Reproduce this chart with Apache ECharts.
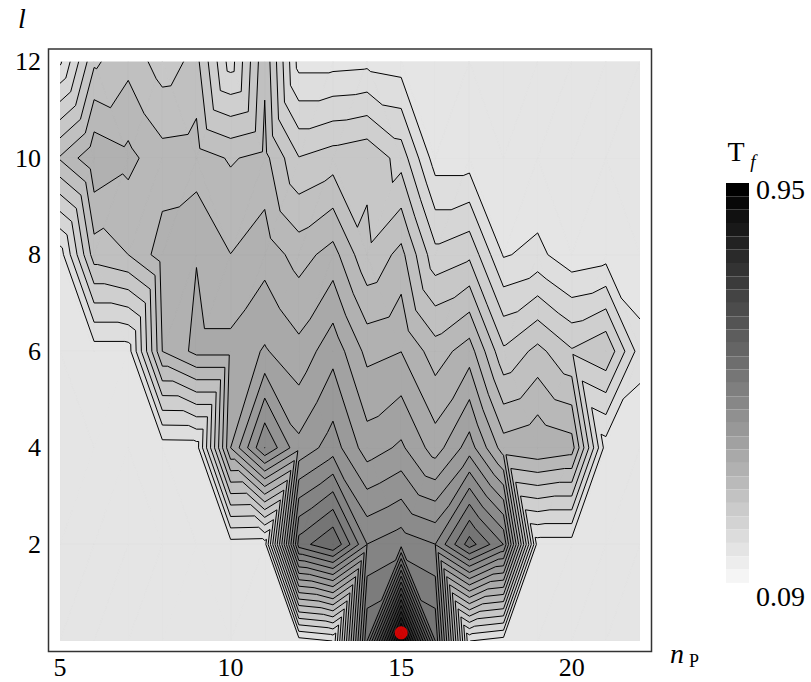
<!DOCTYPE html>
<html>
<head>
<meta charset="utf-8">
<title>T_f contour map</title>
<script src="https://cdn.jsdelivr.net/npm/echarts@6/dist/echarts.min.js"></script>
<style>
html,body{margin:0;padding:0;background:#ffffff;}
#chart{width:811px;height:682px;}
</style>
</head>
<body>
<div id="chart"></div>
<script>
// grid coordinates: n_P (x) and l (y, even values)
const nPValues = [5,6,7,8,9,10,11,12,13,14,15,16,17,18,19,20,21,22];
const lValues  = [0,2,4,6,8,10,12];

// T_f on the grid, one array per l, across n_P = 5..22
const tfL0  = [0.090,0.090,0.090,0.090,0.090,0.090,0.090,0.104,0.119,0.549,0.950,0.549,0.119,0.104,0.090,0.090,0.090,0.090];
const tfL2  = [0.090,0.090,0.090,0.090,0.090,0.106,0.104,0.534,0.577,0.463,0.480,0.463,0.563,0.491,0.104,0.104,0.090,0.090];
const tfL4  = [0.090,0.090,0.090,0.103,0.104,0.348,0.463,0.385,0.420,0.362,0.382,0.334,0.391,0.305,0.316,0.305,0.104,0.090];
const tfL6  = [0.090,0.104,0.104,0.291,0.328,0.328,0.351,0.328,0.367,0.311,0.319,0.276,0.305,0.210,0.242,0.208,0.230,0.133];
const tfL8  = [0.104,0.248,0.262,0.305,0.318,0.291,0.308,0.279,0.302,0.239,0.271,0.185,0.199,0.116,0.127,0.099,0.107,0.090];
const tfL10 = [0.265,0.314,0.299,0.273,0.276,0.259,0.271,0.206,0.219,0.228,0.193,0.104,0.104,0.090,0.090,0.090,0.090,0.090];
const tfL12 = [0.113,0.228,0.253,0.219,0.242,0.133,0.256,0.107,0.107,0.110,0.104,0.090,0.090,0.090,0.090,0.090,0.090,0.090];

const xTickValues = [5,10,15,20];
const yTickValues = [2,4,6,8,10,12];
const tfRange = [0.09, 0.95];
const bandCount = 30;
const optimumPoint = [15, 0.17];

// ---------- contouring (linear interpolation on triangles) ----------
const tfRows = [tfL0,tfL2,tfL4,tfL6,tfL8,tfL10,tfL12];
const bandStep = (tfRange[1]-tfRange[0])/bandCount;
const contourLevels = [];
for (let k=1;k<bandCount;k++) contourLevels.push(tfRange[0]+k*bandStep);

function node(i,j){ return {x:nPValues[i], y:lValues[j], v:tfRows[j][i]}; }
const triangles = [];
for (let j=0;j<lValues.length-1;j++){
  for (let i=0;i<nPValues.length-1;i++){
    const a=node(i,j), b=node(i+1,j), c=node(i+1,j+1), d=node(i,j+1);
    if (a.v + c.v <= b.v + d.v) { triangles.push([a,b,c],[a,c,d]); }
    else { triangles.push([a,b,d],[b,c,d]); }
  }
}
function clipPoly(poly, level, keepAbove){
  const out=[];
  for (let k=0;k<poly.length;k++){
    const p=poly[k], q=poly[(k+1)%poly.length];
    const pin = keepAbove ? p.v>=level : p.v<=level;
    const qin = keepAbove ? q.v>=level : q.v<=level;
    if (pin) out.push(p);
    if (pin!==qin){
      const t=(level-p.v)/(q.v-p.v);
      out.push({x:p.x+t*(q.x-p.x), y:p.y+t*(q.y-p.y), v:level});
    }
  }
  return out;
}
function bandOf(v){
  const b=Math.floor((v-tfRange[0])/bandStep);
  return Math.max(0, Math.min(bandCount-1, b));
}
const bandPolys = Array.from({length:bandCount},()=>[]);
triangles.forEach(tri=>{
  const vs=tri.map(p=>p.v);
  const bmin=bandOf(Math.min(...vs)), bmax=bandOf(Math.max(...vs));
  for (let b=bmin;b<=bmax;b++){
    let poly=tri;
    if (b>0) poly=clipPoly(poly, contourLevels[b-1], true);
    if (b<bandCount-1 && poly.length) poly=clipPoly(poly, contourLevels[b], false);
    if (poly.length>=3) bandPolys[b].push(poly);
  }
});
const contourSegs = contourLevels.map(level=>{
  const segs=[];
  triangles.forEach(tri=>{
    const pts=[];
    for (let k=0;k<3;k++){
      const p=tri[k], q=tri[(k+1)%3];
      const pa=p.v>=level, qa=q.v>=level;
      if (pa!==qa){
        const t=(level-p.v)/(q.v-p.v);
        pts.push([p.x+t*(q.x-p.x), p.y+t*(q.y-p.y)]);
      }
    }
    if (pts.length===2) segs.push(pts);
  });
  return segs;
});

function plotGray(b){ const g=Math.max(0,Math.round(229 - b*7.5)); return 'rgb('+g+','+g+','+g+')'; }
function legendGray(i){ const g=Math.max(0,Math.round(245 - i*245/(bandCount-1))); return 'rgb('+g+','+g+','+g+')'; }

const legendPieces = [];
for (let i=bandCount-1;i>=0;i--){
  const p={gte:tfRange[0]+i*bandStep, color:legendGray(i)};
  if (i===bandCount-1) p.lte=tfRange[1]; else p.lt=tfRange[0]+(i+1)*bandStep;
  legendPieces.push(p);
}

const serif='Liberation Serif';
const tickRich = {t:{fontFamily:serif, fontSize:26, color:'#000'}};
const chart = echarts.init(document.getElementById('chart'), null, {renderer:'svg'});
chart.setOption({
  animation:false,
  backgroundColor:'#ffffff',
  textStyle:{fontFamily:serif},
  grid:{left:60, top:61.5, width:580, height:579.5, show:true, backgroundColor:'#e5e5e5', borderWidth:0,
        containLabel:false, outerBoundsMode:'none'},
  xAxis:{type:'value', min:5, max:22,
    axisLine:{show:false}, axisTick:{show:false}, splitLine:{show:false},
    axisLabel:{customValues:xTickValues, margin:13, fontFamily:serif, fontSize:26, color:'#000',
               formatter:'{t|{value}}', rich:tickRich}},
  yAxis:{type:'value', min:0, max:12,
    axisLine:{show:false}, axisTick:{show:false}, splitLine:{show:false},
    axisLabel:{customValues:yTickValues, margin:19, fontFamily:serif, fontSize:26, color:'#000',
               formatter:'{t|{value}}', rich:tickRich}},
  visualMap:[{
    type:'piecewise', seriesIndex:3, dimension:1, orient:'vertical',
    left:726, top:183, padding:0, itemWidth:23, itemHeight:13.33, itemGap:0,
    itemSymbol:'rect', showLabel:false, selectedMode:false, hoverLink:false,
    pieces:legendPieces
  }],
  series:[
    {type:'custom', name:'bands', coordinateSystem:'cartesian2d', silent:true, clip:true, z:1,
     data: bandPolys.map((_,b)=>[nPValues[0], lValues[0], b]),
     renderItem:function(params, api){
       const b=api.value(2);
       let d='';
       bandPolys[b].forEach(poly=>{
         poly.forEach((p,k)=>{ const c=api.coord([p.x,p.y]); d+=(k?'L':'M')+c[0].toFixed(2)+' '+c[1].toFixed(2); });
         d+='Z';
       });
       if (!d) return null;
       return {type:'path', shape:{pathData:d}, style:{fill:plotGray(b), stroke:plotGray(b), lineWidth:0.3}};
     }},
    {type:'custom', name:'contours', coordinateSystem:'cartesian2d', silent:true, clip:true, z:2,
     data: contourLevels.map((lv,k)=>[nPValues[0], lValues[0], k]),
     renderItem:function(params, api){
       const k=api.value(2);
       let d='';
       contourSegs[k].forEach(s=>{
         const a=api.coord(s[0]), b=api.coord(s[1]);
         d+='M'+a[0].toFixed(2)+' '+a[1].toFixed(2)+'L'+b[0].toFixed(2)+' '+b[1].toFixed(2);
       });
       if (!d) return null;
       return {type:'path', shape:{pathData:d}, style:{fill:'none', stroke:'#000', lineWidth:1}};
     }},
    {type:'scatter', name:'optimum', data:[optimumPoint], symbolSize:13, z:5, silent:true,
     itemStyle:{color:'#ff0000'}},
    {type:'scatter', name:'legend', data:[]}
  ],
  graphic:[
    {type:'rect', z:100, silent:true, shape:{x:48.5,y:49,width:603,height:602.5},
     style:{fill:'none', stroke:'#333', lineWidth:1.5}},
    {type:'text', z:100, x:22, y:18, style:{text:'l', font:'italic 28px Liberation Serif', fill:'#000', align:'center', verticalAlign:'middle', textAlign:'center', textVerticalAlign:'middle'}},
    {type:'text', z:100, x:677, y:653, style:{text:'n', font:'italic 28px Liberation Serif', fill:'#000', align:'center', verticalAlign:'middle', textAlign:'center', textVerticalAlign:'middle'}},
    {type:'text', z:100, x:694, y:661, style:{text:'P', font:'18px Liberation Serif', fill:'#000', align:'center', verticalAlign:'middle', textAlign:'center', textVerticalAlign:'middle'}},
    {type:'text', z:100, x:736, y:151, style:{text:'T', font:'28px Liberation Serif', fill:'#000', align:'center', verticalAlign:'middle', textAlign:'center', textVerticalAlign:'middle'}},
    {type:'text', z:100, x:753, y:161, style:{text:'f', font:'italic 19px Liberation Serif', fill:'#000', align:'center', verticalAlign:'middle', textAlign:'center', textVerticalAlign:'middle'}},
    {type:'text', z:100, x:756, y:189, style:{text:'0.95', font:'28px Liberation Serif', fill:'#000', align:'left', verticalAlign:'middle', textAlign:'left', textVerticalAlign:'middle'}},
    {type:'text', z:100, x:756, y:596, style:{text:'0.09', font:'28px Liberation Serif', fill:'#000', align:'left', verticalAlign:'middle', textAlign:'left', textVerticalAlign:'middle'}}
  ]
});
</script>
</body>
</html>
